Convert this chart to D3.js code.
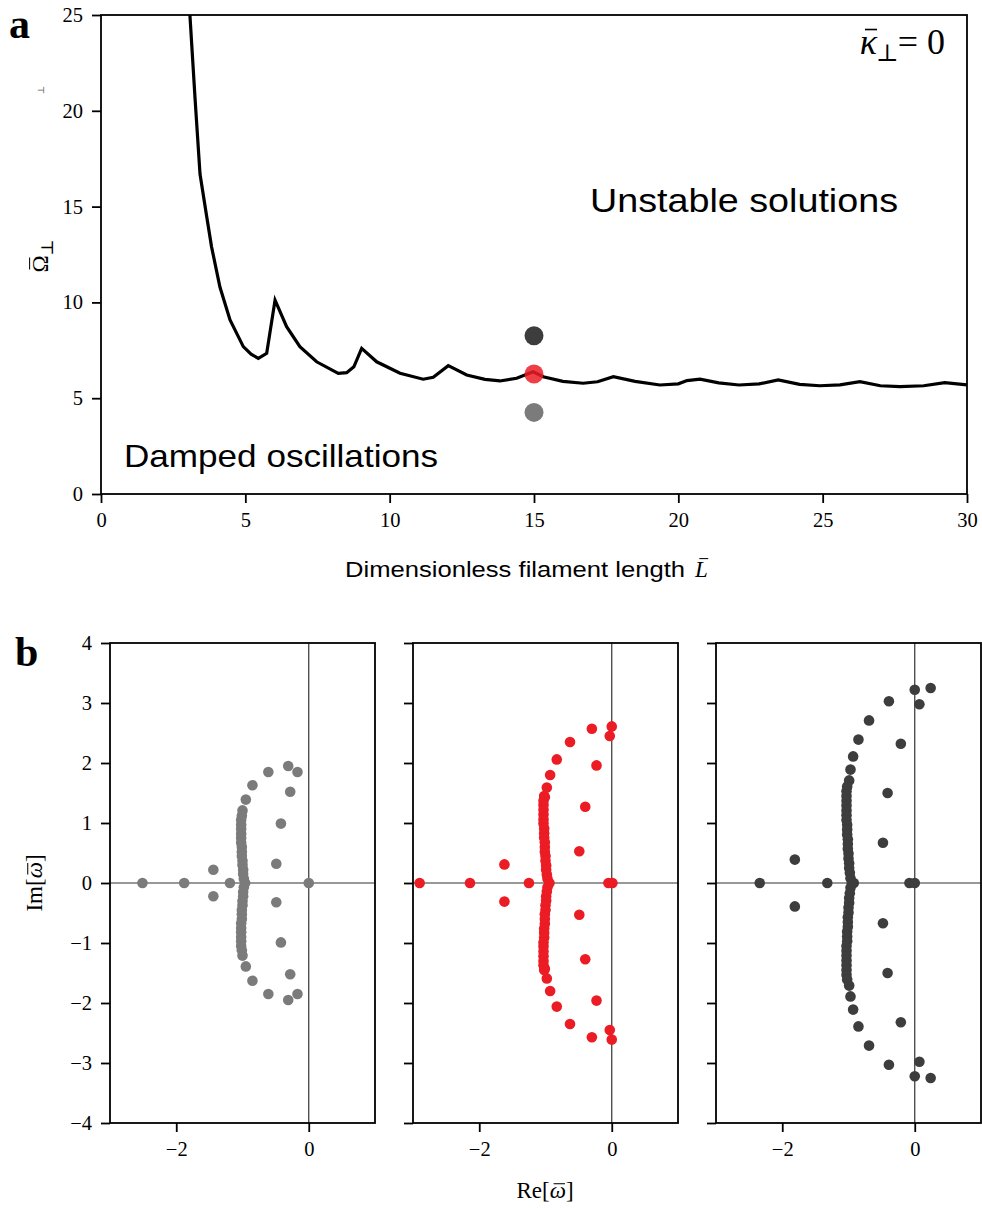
<!DOCTYPE html>
<html>
<head>
<meta charset="utf-8">
<script src="https://cdn.jsdelivr.net/npm/d3@7"></script>
<style>
  html, body { margin: 0; padding: 0; background: #fff; }
  svg { display: block; }
  .serif { font-family: "Liberation Serif", "DejaVu Serif", serif; }
  .sans { font-family: "Liberation Sans", Arial, sans-serif; }
</style>
</head>
<body>
<svg id="fig" width="982" height="1208"></svg>
<script>
// ---- Panel a: stability boundary Ω⊥(L) ----
const boundaryL = [3.08, 3.26, 3.43, 3.66, 3.83, 4.12, 4.47, 4.93, 5.2, 5.45, 5.74, 6.03, 6.43, 6.89, 7.47,
  8.22, 8.51, 8.76, 9.03, 9.55, 10.36, 11.16, 11.51, 12.03, 12.67, 13.3, 13.82, 14.4, 14.97, 15.32,
  16.0, 16.7, 17.2, 17.75, 18.5, 19.36, 20.0, 20.3, 20.75, 21.4, 22.1, 22.8, 23.46, 24.2, 24.9,
  25.6, 26.29, 27.0, 27.68, 28.5, 29.23, 30.0];
const boundaryOmega = [25.0, 20.6, 16.7, 14.5, 12.9, 10.8, 9.08, 7.69, 7.3, 7.08, 7.34, 10.12, 8.73, 7.69, 6.9,
  6.3, 6.33, 6.64, 7.6, 6.9, 6.3, 5.99, 6.09, 6.70, 6.21, 5.98, 5.9, 6.04, 6.38, 6.12,
  5.88, 5.78, 5.86, 6.12, 5.88, 5.69, 5.75, 5.92, 5.99, 5.8, 5.69, 5.75, 5.95, 5.72, 5.65,
  5.7, 5.86, 5.65, 5.6, 5.65, 5.81, 5.69];

// Three sample points at L = 15
const sampleL = [15, 15, 15];
const sampleOmega = [4.26, 6.26, 8.26];
const sampleColors = ["#7b7b7b", "#ec1c24", "#3d3d3d"];
const sampleOpacity = [1, 0.85, 1];

const xTicksA = [0, 5, 10, 15, 20, 25, 30];
const yTicksA = [0, 5, 10, 15, 20, 25];

// ---- Panel b: eigenvalue spectra (Re, Im) for the three sample points ----
const gapRe = [-2.51, -1.88, -1.44, -1.44, -1.19,
  -1.00, -0.95, -0.85, -0.61, -0.31, -0.17, -0.28, -0.42, -0.49,
  -1.00, -0.95, -0.85, -0.61, -0.31, -0.17, -0.28, -0.42, -0.49, 0.0,
  -1.01, -1.02, -1.02, -1.02, -1.02, -1.02, -1.02, -1.01, -1.01, -1.01, -1.0, -1.0, -0.99, -0.99, -0.98, -0.96,
  -0.98, -0.99, -0.99, -1.0, -1.0, -1.01, -1.01, -1.01, -1.02, -1.02, -1.02, -1.02, -1.02, -1.02, -1.01];
const gapIm = [0, 0, 0.22, -0.22, 0,
  1.21, 1.39, 1.63, 1.85, 1.95, 1.85, 1.52, 0.99, 0.32,
  -1.21, -1.39, -1.63, -1.85, -1.95, -1.85, -1.52, -0.99, -0.32, 0,
  1.12, 1.05, 0.97, 0.90, 0.82, 0.75, 0.67, 0.60, 0.52, 0.45, 0.37, 0.30, 0.22, 0.15, 0.07, 0,
  -0.07, -0.15, -0.22, -0.30, -0.37, -0.45, -0.52, -0.60, -0.67, -0.75, -0.82, -0.90, -0.97, -1.05, -1.12];

const midRe = [-2.90, -2.14, -1.62, -1.62, -1.25,
  -1.01, -0.98, -0.93, -0.83, -0.63, -0.30, 0.0, -0.03, -0.23, -0.40, -0.49,
  -1.01, -0.98, -0.93, -0.83, -0.63, -0.30, 0.0, -0.03, -0.23, -0.40, -0.49, -0.05, 0.01,
  -1.02, -1.03, -1.03, -1.03, -1.03, -1.03, -1.03, -1.02, -1.02, -1.02, -1.01, -1.01, -1.01, -1.0, -1.0, -0.99, -0.99, -0.98, -0.97, -0.94,
  -0.97, -0.98, -0.99, -0.99, -1.0, -1.0, -1.01, -1.01, -1.01, -1.02, -1.02, -1.02, -1.03, -1.03, -1.03, -1.03, -1.03, -1.03, -1.02];
const midIm = [0, 0, 0.31, -0.31, 0,
  1.43, 1.59, 1.80, 2.06, 2.35, 2.57, 2.61, 2.45, 1.96, 1.27, 0.53,
  -1.43, -1.59, -1.80, -2.06, -2.35, -2.57, -2.61, -2.45, -1.96, -1.27, -0.53, 0, 0,
  1.45, 1.37, 1.30, 1.22, 1.14, 1.06, 0.99, 0.91, 0.83, 0.76, 0.68, 0.60, 0.52, 0.45, 0.37, 0.29, 0.22, 0.14, 0.07, 0,
  -0.07, -0.14, -0.22, -0.29, -0.37, -0.45, -0.52, -0.60, -0.68, -0.76, -0.83, -0.91, -0.99, -1.06, -1.14, -1.22, -1.30, -1.37, -1.45];

const highRe = [-2.34, -1.81, -1.81, -1.32, -0.92,
  -0.99, -0.97, -0.93, -0.85, -0.69, -0.39, 0.0, 0.24, 0.07, -0.21, -0.41, -0.48,
  -0.99, -0.97, -0.93, -0.85, -0.69, -0.39, 0.0, 0.24, 0.07, -0.21, -0.41, -0.48, -0.08, 0.0,
  -1.02, -1.03, -1.03, -1.03, -1.03, -1.03, -1.03, -1.03, -1.02, -1.02, -1.02, -1.01, -1.01, -1.01, -1.0, -1.0, -0.99, -0.99, -0.98, -0.97, -0.95,
  -0.97, -0.98, -0.99, -0.99, -1.0, -1.0, -1.01, -1.01, -1.01, -1.02, -1.02, -1.02, -1.03, -1.03, -1.03, -1.03, -1.03, -1.03, -1.03, -1.02];
const highIm = [0, 0.39, -0.39, 0, 0,
  1.71, 1.89, 2.11, 2.39, 2.71, 3.03, 3.22, 3.25, 2.98, 2.32, 1.50, 0.67,
  -1.71, -1.89, -2.11, -2.39, -2.71, -3.03, -3.22, -3.25, -2.98, -2.32, -1.50, -0.67, 0, 0,
  1.61, 1.53, 1.45, 1.37, 1.29, 1.21, 1.13, 1.05, 0.97, 0.89, 0.81, 0.73, 0.65, 0.57, 0.49, 0.41, 0.33, 0.25, 0.17, 0.08, 0,
  -0.08, -0.17, -0.25, -0.33, -0.41, -0.49, -0.57, -0.65, -0.73, -0.81, -0.89, -0.97, -1.05, -1.13, -1.21, -1.29, -1.37, -1.45, -1.53, -1.61];

const reTicks = [-2, 0];
const imTicks = [-4, -3, -2, -1, 0, 1, 2, 3, 4];

const svg = d3.select("#fig");
const fmt = d => d3.format("d")(d).replace("-", "\u2212");
const TICK_FONT = 20.5;

function styleAxis(g, fontSize) {
  g.select(".domain").remove();
  g.selectAll(".tick line").attr("stroke", "#000").attr("stroke-width", 1.8);
  g.selectAll(".tick text")
    .attr("class", "serif")
    .attr("fill", "#000")
    .style("font-size", fontSize + "px");
}

// Draws a bar accent over character `idx` of a text element, `rise` em above its baseline.
function macron(parent, textSel, idx, fontSize, rise, skew) {
  const node = textSel.node();
  const s = node.getStartPositionOfChar(idx);
  const e = node.getEndPositionOfChar(idx);
  const w = e.x - s.x;
  const y = s.y - rise * fontSize;
  parent.append("line")
    .attr("x1", s.x + w * 0.18 + skew).attr("x2", e.x - w * 0.12 + skew)
    .attr("y1", y).attr("y2", y)
    .attr("stroke", "#000").attr("stroke-width", Math.max(1, fontSize * 0.045));
}

// ================= Panel a =================
const A = { left: 101, top: 15, width: 866, height: 479 };
const xA = d3.scaleLinear().domain([0, 30]).range([A.left, A.left + A.width]);
const yA = d3.scaleLinear().domain([0, 25]).range([A.top + A.height, A.top]);

svg.append("clipPath").attr("id", "clipA")
  .append("rect").attr("x", A.left).attr("y", A.top).attr("width", A.width).attr("height", A.height);

const line = d3.line().x((d, i) => xA(boundaryL[i])).y((d, i) => yA(boundaryOmega[i]));
svg.append("path")
  .datum(boundaryL)
  .attr("clip-path", "url(#clipA)")
  .attr("d", line)
  .attr("fill", "none")
  .attr("stroke", "#000")
  .attr("stroke-width", 3.2)
  .attr("stroke-linejoin", "miter");

svg.append("g").selectAll("circle")
  .data(sampleL)
  .join("circle")
  .attr("cx", d => xA(d))
  .attr("cy", (d, i) => yA(sampleOmega[i]))
  .attr("r", 9.5)
  .attr("fill", (d, i) => sampleColors[i])
  .attr("fill-opacity", (d, i) => sampleOpacity[i]);

svg.append("rect")
  .attr("x", A.left).attr("y", A.top).attr("width", A.width).attr("height", A.height)
  .attr("fill", "none").attr("stroke", "#000").attr("stroke-width", 1.8);

svg.append("g")
  .attr("transform", `translate(0,${A.top + A.height})`)
  .call(d3.axisBottom(xA).tickValues(xTicksA).tickFormat(fmt).tickSize(9).tickPadding(9))
  .call(g => styleAxis(g, TICK_FONT));

svg.append("g")
  .attr("transform", `translate(${A.left},0)`)
  .call(d3.axisLeft(yA).tickValues(yTicksA).tickFormat(fmt).tickSize(9).tickPadding(9))
  .call(g => styleAxis(g, TICK_FONT));

svg.append("text").attr("class", "sans")
  .attr("x", 124).attr("y", 467)
  .attr("textLength", 314).attr("lengthAdjust", "spacingAndGlyphs")
  .style("font-size", "32px").text("Damped oscillations");

svg.append("text").attr("class", "sans")
  .attr("x", 590).attr("y", 212)
  .attr("textLength", 308).attr("lengthAdjust", "spacingAndGlyphs")
  .style("font-size", "33px").text("Unstable solutions");

// κ̄⊥ = 0
const kapG = svg.append("g");
const kap = kapG.append("text").attr("class", "serif")
  .attr("x", 945).attr("y", 54).attr("text-anchor", "end").style("font-size", "36px");
kap.append("tspan").style("font-style", "italic").text("\u03BA");
kap.append("tspan").attr("dy", 7).attr("dx", -1).style("font-size", "24px").text("\u22A5");
kap.append("tspan").attr("dy", -7).attr("dx", -1).text("= 0");
macron(kapG, kap, 0, 36, 0.68, 2);

// x label
svg.append("text").attr("class", "sans")
  .attr("x", 345).attr("y", 577)
  .attr("textLength", 340).attr("lengthAdjust", "spacingAndGlyphs")
  .style("font-size", "22px").text("Dimensionless filament length");
const lG = svg.append("g");
const lT = lG.append("text").attr("class", "serif")
  .attr("x", 695).attr("y", 577)
  .style("font-size", "23px").style("font-style", "italic").text("L");
macron(lG, lT, 0, 23, 0.8, 2);

// y label
const ylG = svg.append("g").attr("transform", "translate(48,256) rotate(-90)");
const yl = ylG.append("text").attr("class", "serif")
  .attr("x", 0).attr("y", 0).attr("text-anchor", "middle").style("font-size", "23px");
yl.append("tspan").text("\u03A9");
yl.append("tspan").attr("dy", 5).style("font-size", "17px").text("\u22A5");
macron(ylG, yl, 0, 23, 0.8, 0);

// small stray glyph near the y axis label
svg.append("text").attr("class", "serif")
  .attr("transform", "translate(44,90) rotate(-90)")
  .attr("text-anchor", "middle").attr("fill", "#666")
  .style("font-size", "9px").text("\u22A5");

svg.append("text").attr("class", "serif")
  .attr("x", 9).attr("y", 38).style("font-size", "42px").style("font-weight", "bold").text("a");

// ================= Panel b =================
const B = { top: 643, height: 480, width: 265 };
const lefts = [110, 413, 716];
const spectra = [
  { re: gapRe, im: gapIm, color: "#7b7b7b" },
  { re: midRe, im: midIm, color: "#ec1c24" },
  { re: highRe, im: highIm, color: "#3d3d3d" }
];
const yB = d3.scaleLinear().domain([-4, 4]).range([B.top + B.height, B.top]);

spectra.forEach((s, k) => {
  const x0 = lefts[k];
  const xB = d3.scaleLinear().domain([-3, 1]).range([x0, x0 + B.width]);
  const g = svg.append("g");

  // reference axes through the origin
  g.append("line").attr("x1", xB(0)).attr("x2", xB(0)).attr("y1", B.top).attr("y2", B.top + B.height)
    .attr("stroke", "#333").attr("stroke-width", 1.2);
  g.append("line").attr("x1", x0).attr("x2", x0 + B.width).attr("y1", yB(0)).attr("y2", yB(0))
    .attr("stroke", "#333").attr("stroke-width", 1.2);

  g.selectAll("circle")
    .data(s.re)
    .join("circle")
    .attr("cx", d => xB(d))
    .attr("cy", (d, i) => yB(s.im[i]))
    .attr("r", 5.3)
    .attr("fill", s.color);

  g.append("rect")
    .attr("x", x0).attr("y", B.top).attr("width", B.width).attr("height", B.height)
    .attr("fill", "none").attr("stroke", "#000").attr("stroke-width", 1.8);

  svg.append("g")
    .attr("transform", `translate(0,${B.top + B.height})`)
    .call(d3.axisBottom(xB).tickValues(reTicks).tickFormat(fmt).tickSize(9).tickPadding(9))
    .call(gg => styleAxis(gg, TICK_FONT));

  svg.append("g")
    .attr("transform", `translate(${x0},0)`)
    .call(d3.axisLeft(yB).tickValues(imTicks).tickFormat(k === 0 ? fmt : () => "").tickSize(9).tickPadding(9))
    .call(gg => styleAxis(gg, TICK_FONT));
});

const relG = svg.append("g");
const rel = relG.append("text").attr("class", "serif")
  .attr("x", 545).attr("y", 1198).attr("text-anchor", "middle").style("font-size", "23px");
rel.append("tspan").text("Re[");
rel.append("tspan").style("font-style", "italic").text("\u03C9");
rel.append("tspan").text("]");
macron(relG, rel, 3, 23, 0.62, 1);

const imG = svg.append("g").attr("transform", "translate(42,883) rotate(-90)");
const iml = imG.append("text").attr("class", "serif")
  .attr("x", 0).attr("y", 0).attr("text-anchor", "middle").style("font-size", "23px");
iml.append("tspan").text("Im[");
iml.append("tspan").style("font-style", "italic").text("\u03C9");
iml.append("tspan").text("]");
macron(imG, iml, 3, 23, 0.62, 1);

svg.append("text").attr("class", "serif")
  .attr("x", 15).attr("y", 666).style("font-size", "42px").style("font-weight", "bold").text("b");
</script>
</body>
</html>
